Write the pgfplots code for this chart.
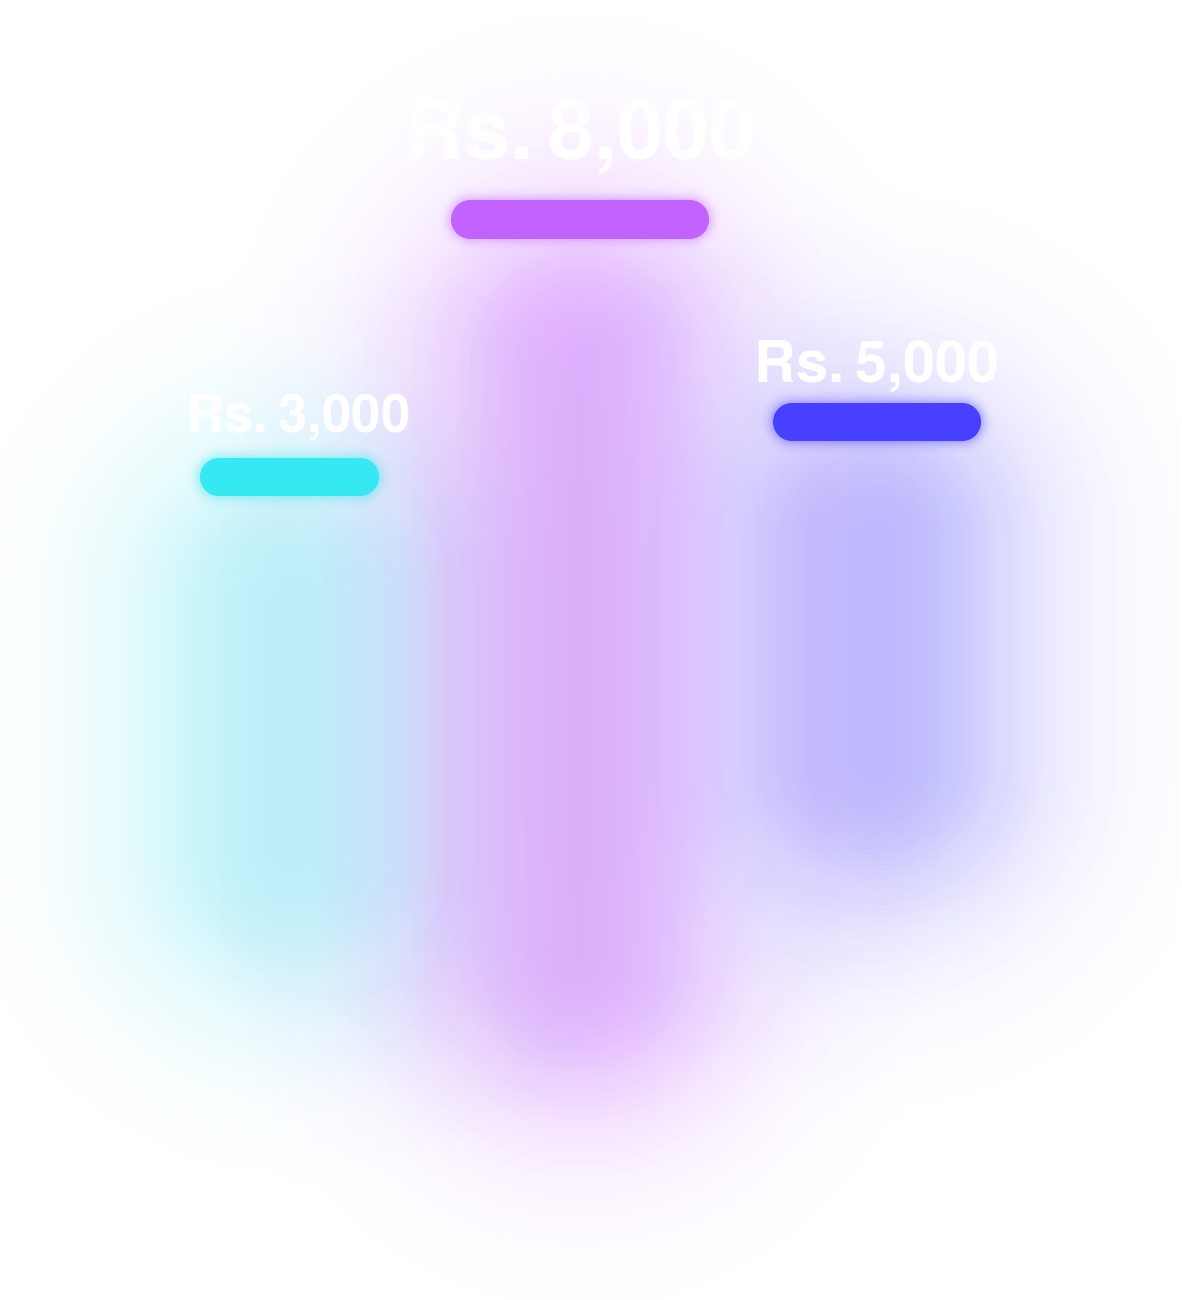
\documentclass[border=0pt]{standalone}
\usepackage{fontspec}
\usepackage{pgfplots}
\pgfplotsset{compat=1.18}
\newfontfamily\lbl[WordSpace=0.35]{TeX Gyre Heros}

\definecolor{cyanglow}{HTML}{B8F2F8}
\definecolor{cyanpill}{HTML}{36E8F2}
\definecolor{purpleglow}{HTML}{DEABFF}
\definecolor{purplepill}{HTML}{C263FF}
\definecolor{blueglow}{HTML}{B9B7FD}
\definecolor{bluepill}{HTML}{4840FF}

% soft glow: stacked round-capped strokes of growing width
% #1 points, #2 colour, #3 half width, #4 softness, #5 peak alpha, #6 step, #7 layers (px = 0.01cm)
\newcommand\glow[7]{%
  \pgfplotsforeachungrouped \k in {1,...,#7}{%
    \pgfmathsetmacro\ap{#5/(1+exp(-1.702*(#3-(\k-1)*#6)/#4))}%
    \pgfmathsetmacro\ac{#5/(1+exp(-1.702*(#3-\k*#6)/#4))}%
    \pgfmathsetmacro\op{max(0,(\ap-\ac)/(1-\ac))}%
    \pgfmathsetmacro\lw{0.02*\k*#6}%
    \edef\temp{\noexpand\addplot[draw=#2, draw opacity=\op, line width=\lw cm,
      line cap=round, mark=none, forget plot] coordinates {#1};}%
    \temp
  }%
}

\begin{document}
\begin{tikzpicture}
\begin{axis}[
    name=ax,
    width=11.81cm, height=13cm, scale only axis,
    xmin=0, xmax=1181, ymin=-300, ymax=1000,
    hide axis,
]
% wide haze
\glow{(289.5,150) (289.5,400)}{cyanglow}{200}{110}{0.3}{12}{30}
\glow{(877,240) (877,460)}{blueglow}{200}{110}{0.3}{12}{30}
\glow{(580,40) (580,640)}{purpleglow}{200}{110}{0.3}{12}{30}
% column glow
\glow{(289.5,150) (289.5,400)}{cyanglow}{115}{60}{0.97}{5}{56}
\glow{(877,240) (877,460)}{blueglow}{110}{60}{0.97}{5}{56}
\glow{(580,40) (580,640)}{purpleglow}{110}{60}{0.97}{5}{56}
% pill shadows
\glow{(219,523) (360,523)}{cyanpill}{19}{6}{0.6}{2}{16}
\glow{(470.5,780.5) (689.5,780.5)}{purplepill}{19.5}{6}{0.6}{2}{16}
\glow{(792,578) (962,578)}{bluepill}{19}{6}{0.6}{2}{16}
% pills
\addplot[draw=cyanpill, line width=0.38cm, line cap=round, mark=none, forget plot]
  coordinates {(219,523) (360,523)};
\addplot[draw=purplepill, line width=0.39cm, line cap=round, mark=none, forget plot]
  coordinates {(470.5,780.5) (689.5,780.5)};
\addplot[draw=bluepill, line width=0.38cm, line cap=round, mark=none, forget plot]
  coordinates {(792,578) (962,578)};
% labels
\addplot[draw=none, mark=none, forget plot, point meta=explicit symbolic,
  nodes near coords, nodes near coords style={text=white, inner sep=0pt, anchor=base,
  font=\lbl\bfseries\fontsize{15}{18}\selectfont, yshift=0.44cm, xshift=0.09cm}]
  coordinates {(289.5,523) [Rs. 3,000]};
\addplot[draw=none, mark=none, forget plot, point meta=explicit symbolic,
  nodes near coords, nodes near coords style={text=white, inner sep=0pt, anchor=base,
  font=\lbl\bfseries\fontsize{23.5}{27}\selectfont, yshift=0.60cm}]
  coordinates {(580,780.5) [Rs. 8,000]};
\addplot[draw=none, mark=none, forget plot, point meta=explicit symbolic,
  nodes near coords, nodes near coords style={text=white, inner sep=0pt, anchor=base,
  font=\lbl\bfseries\fontsize{16.4}{19}\selectfont, yshift=0.39cm}]
  coordinates {(877,578) [Rs. 5,000]};
\end{axis}
\pgfresetboundingbox
\path[use as bounding box] (ax.south west) rectangle (ax.north east);
\end{tikzpicture}
\end{document}
